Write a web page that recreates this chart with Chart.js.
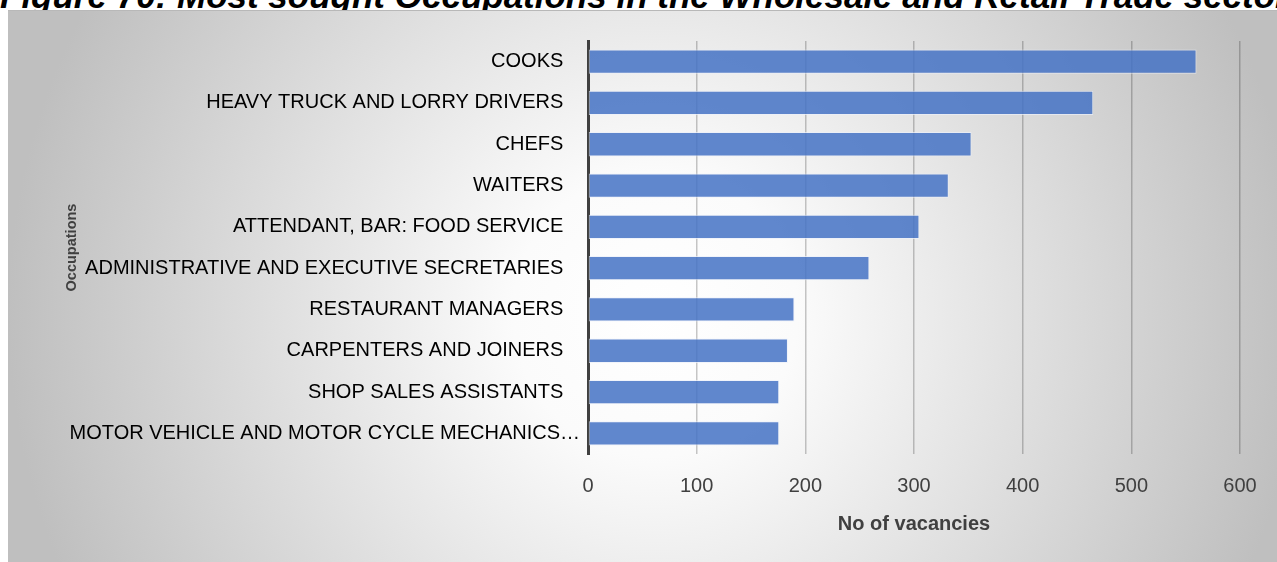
<!DOCTYPE html>
<html>
<head>
<meta charset="utf-8">
<script src="https://cdn.jsdelivr.net/npm/chart.js@4/dist/chart.umd.min.js"></script>
<style>
  html, body { margin: 0; padding: 0; background: #ffffff; width: 1277px; height: 562px; overflow: hidden; }
  #title {
    position: absolute; left: 0; top: 0; width: 1277px; height: 10px; overflow: hidden;
  }
  #title span {
    position: absolute; left: 0; top: -22px; white-space: nowrap;
    font-family: 'Liberation Sans', Arial, sans-serif; font-weight: bold; font-style: italic;
    font-size: 35px; line-height: 35px; color: #000;
  }
  #panel {
    position: absolute; left: 8px; top: 10px; width: 1269px; height: 551px;
    border-top: 1px solid #b8b8b8;
    background: radial-gradient(circle farthest-side at 51% 55%, #ffffff 0%, #fbfbfb 22%, #bfbfbf 100%);
  }
  canvas { position: absolute; left: 0; top: 0; }
</style>
</head>
<body>
<div id="title"><span>Figure 70: Most sought Occupations in the Wholesale and Retail Trade sector</span></div>
<div id="panel"><canvas id="c" width="1269" height="551"></canvas></div>
<script>
const categories = [
  'COOKS',
  'HEAVY TRUCK AND LORRY DRIVERS',
  'CHEFS',
  'WAITERS',
  'ATTENDANT, BAR: FOOD SERVICE',
  'ADMINISTRATIVE AND EXECUTIVE SECRETARIES',
  'RESTAURANT MANAGERS',
  'CARPENTERS AND JOINERS',
  'SHOP SALES ASSISTANTS',
  'MOTOR VEHICLE AND MOTOR CYCLE MECHANICS\u2026'
];
const vacancies = [560, 465, 353, 332, 305, 259, 190, 184, 176, 176];
const xAxisMin = 0;
const xAxisMax = 600;
const xAxisStep = 100;
const xAxisTitle = 'No of vacancies';
const yAxisTitle = 'Occupations';

const FONT = "'Liberation Sans', Arial, sans-serif";

new Chart(document.getElementById('c'), {
  type: 'bar',
  data: {
    labels: categories,
    datasets: [{
      data: vacancies,
      backgroundColor: 'rgba(68,114,196,0.85)',
      borderColor: 'rgba(235,240,250,0.7)',
      borderWidth: 1,
      borderSkipped: false,
      categoryPercentage: 1.0,
      barPercentage: 0.588
    }]
  },
  options: {
    indexAxis: 'y',
    responsive: false,
    animation: false,
    devicePixelRatio: 1,
    layout: { padding: { left: 0, right: 37, top: 30, bottom: 0 } },
    plugins: { legend: { display: false }, tooltip: { enabled: false }, title: { display: false } },
    scales: {
      x: {
        min: xAxisMin, max: xAxisMax,
        ticks: { stepSize: xAxisStep, padding: 20, color: '#404040', font: { family: FONT, size: 20 } },
        grid: { color: 'rgba(0,0,0,0.22)', lineWidth: 1.5, drawTicks: false },
        border: { display: false },
        title: { display: true, text: xAxisTitle, color: '#404040',
                 font: { family: FONT, size: 20, weight: 'bold' }, padding: { top: 0, bottom: 26 } },
        afterFit: s => { s.height = 108; }
      },
      y: {
        ticks: {
          padding: 8, color: '#000000', font: { family: FONT, size: 20 },
          callback: function (v, i) {
            const l = this.getLabelForValue(v);
            return i === categories.length - 1 ? l : l + '   ';
          }
        },
        grid: { display: false, drawTicks: false },
        border: { display: true, color: '#404040', width: 3 },
        title: { display: true, text: yAxisTitle, color: '#404040',
                 font: { family: FONT, size: 14.5, weight: 'bold' }, padding: { top: 55 } },
        afterFit: s => { s.width = 580; }
      }
    }
  }
});
</script>
</body>
</html>
